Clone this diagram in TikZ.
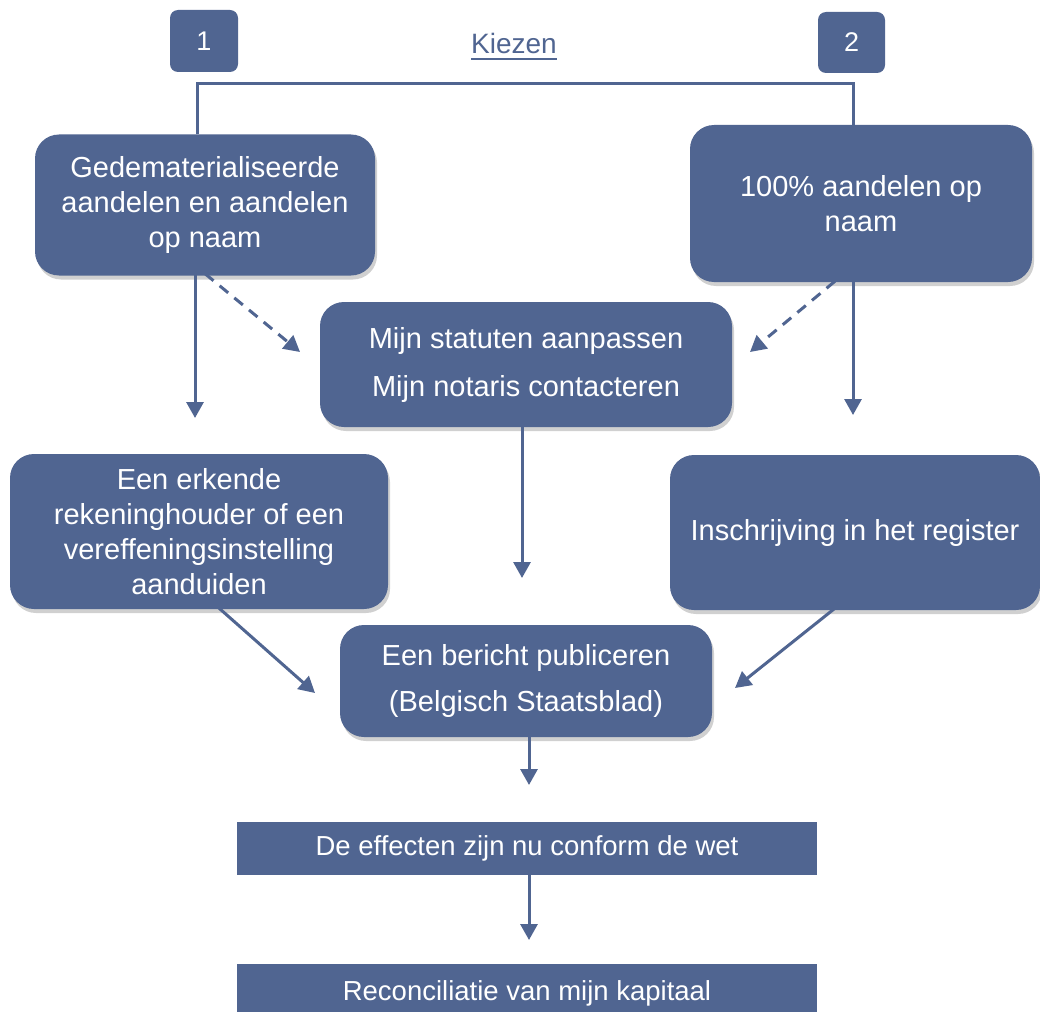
\documentclass[tikz,border=0pt]{standalone}
\usepackage{fontspec}
\setmainfont{Liberation Sans}
\usetikzlibrary{arrows.meta,shadows}
\definecolor{boxblue}{RGB}{80,101,145}
\tikzset{
  rbox/.style={draw=none, fill=boxblue, rounded corners=24pt, text=white, align=center,
    inner sep=0pt, drop shadow={shadow xshift=2pt, shadow yshift=-4pt, opacity=0.3, fill=black!60}},
  numbox/.style={draw=none, fill=boxblue, rounded corners=8pt, text=white, inner sep=0pt,
    font=\fontsize{27}{32}\selectfont},
  flatbox/.style={draw=none, fill=boxblue, text=white, inner sep=0pt,
    font=\fontsize{27.5}{32}\selectfont},
  conn/.style={draw=boxblue, line width=3pt},
  arr/.style={conn, -{Triangle[length=16pt,width=17pt]}},
  darr/.style={arr, dash pattern=on 11pt off 8pt},
  mainfont/.style={font=\fontsize{29}{35}\selectfont},
}
\begin{document}
\begin{tikzpicture}[x=1pt,y=-1pt]
\clip (0,0) rectangle (1040,1011);
\fill[white] (0,0) rectangle (1040,1011);

\node[numbox, minimum width=68pt, minimum height=62pt] (n1) at (204,41) {1};
\node[numbox, minimum width=67pt, minimum height=61pt] (n2) at (851.5,42.5) {2};
\node[text=boxblue, font=\fontsize{28}{34}\selectfont, inner sep=0pt] (kiezen) at (514,43) {Kiezen};
\draw[boxblue, line width=2.5pt] ([yshift=-6pt]kiezen.base west) -- ([yshift=-6pt]kiezen.base east);

\node[rbox, mainfont, minimum width=340pt, minimum height=141pt] (A) at (205,205)
  {Gedematerialiseerde\\aandelen en aandelen\\op naam};
\node[rbox, mainfont, minimum width=342pt, minimum height=157pt] (B) at (861,203.5)
  {100\% aandelen op\\naam};
\node[rbox, font=\fontsize{29}{48}\selectfont, minimum width=412pt, minimum height=125pt] (C) at (526,364.5)
  {Mijn statuten aanpassen\\Mijn notaris contacteren};
\node[rbox, mainfont, minimum width=378pt, minimum height=155pt] (D) at (199,531.5)
  {Een erkende\\rekeninghouder of een\\vereffeningsinstelling\\aanduiden};
\node[rbox, mainfont, minimum width=370pt, minimum height=155pt] (E) at (855,532.5)
  {Inschrijving in het register};
\node[rbox, font=\fontsize{29}{46}\selectfont, minimum width=372pt, minimum height=112pt] (F) at (526,681)
  {Een bericht publiceren\\(Belgisch Staatsblad)};
\node[flatbox, minimum width=580pt, minimum height=53pt] (G) at (527,848)
  {De effecten zijn nu conform de wet};
\node[flatbox, minimum width=580pt, minimum height=58pt] (H) at (527,993)
  {Reconciliatie van mijn kapitaal};

% bracket
\draw[conn] ([xshift=-8pt]A.north) |- (500,84) -| ([xshift=-8pt]B.north);

% free arrow ends
\coordinate (tA) at (195,418);
\coordinate (tAC) at (300,352);
\coordinate (tBC) at (750,352);
\coordinate (tB) at (853,415);
\coordinate (tC) at (522,578);
\coordinate (tDF) at (315,693);
\coordinate (tEF) at (735,688);
\coordinate (tF) at (529,785);
\coordinate (tG) at (529,940);

\draw[arr] ([xshift=-10pt,yshift=2pt]A.south) -- (tA);
\draw[darr] ([xshift=0pt,yshift=2pt]A.south) -- (tAC);
\draw[darr] ([xshift=-26pt,yshift=1pt]B.south) -- (tBC);
\draw[arr] ([xshift=-8pt,yshift=1pt]B.south) -- (tB);
\draw[arr] ([xshift=-4pt,yshift=5pt]C.south) -- (tC);
\draw[arr] ([xshift=19pt,yshift=2pt]D.south) -- (tDF);
\draw[arr] ([xshift=-20pt,yshift=2pt]E.south) -- (tEF);
\draw[arr] ([xshift=3pt,yshift=3pt]F.south) -- (tF);
\draw[arr] ([xshift=2pt,yshift=12pt]G.south) -- (tG);
\end{tikzpicture}
\end{document}
